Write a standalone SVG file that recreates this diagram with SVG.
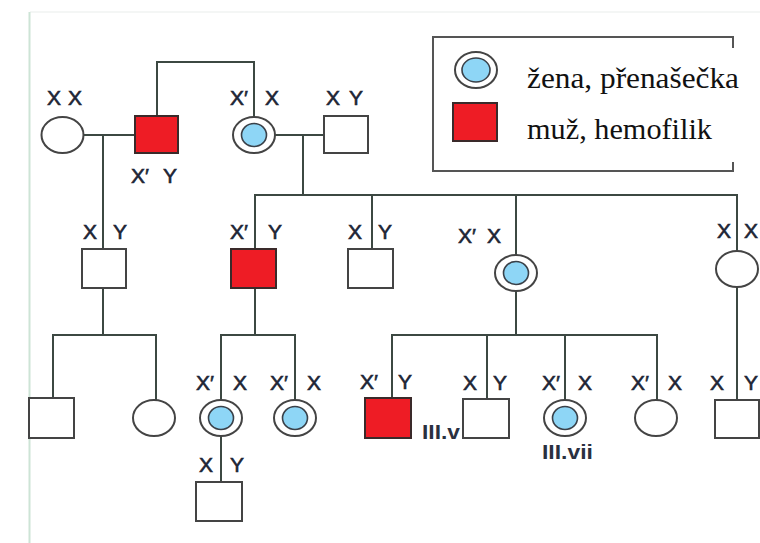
<svg xmlns="http://www.w3.org/2000/svg" width="760" height="543" viewBox="0 0 760 543">
<defs>
<style>
.ln{fill:none;stroke:#3c4842;stroke-width:2;stroke-linecap:square}
.m{fill:#fff;stroke:#444;stroke-width:2}
.hm{fill:#ee1c25;stroke:#3a2a2a;stroke-width:2}
.w{fill:#fff;stroke:#444;stroke-width:2}
.co{fill:#fff;stroke:#444;stroke-width:2}
.ci{fill:#8ed6f6;stroke:#3a4048;stroke-width:1.6}
.g{font-family:"Liberation Sans",Arial,sans-serif;font-size:21px;fill:#1e2636;stroke:#1e2636;stroke-width:0.6;text-anchor:middle}
.id{font-family:"Liberation Sans",Arial,sans-serif;font-size:20px;font-weight:bold;fill:#2a3040}
.lg{font-family:"Liberation Serif","Times New Roman",serif;font-size:29px;fill:#111}
</style>
</defs>
<rect width="760" height="543" fill="#fff"/>
<line x1="30" y1="12" x2="760" y2="12" stroke="#f1f3f2" stroke-width="1.5"/>
<line x1="29.5" y1="12" x2="29.5" y2="543" stroke="#cde4d6" stroke-width="2"/>

<g id="connectors">
<path class="ln" d="M157,116 V62 H254 V117"/>
<path class="ln" d="M84,135 H135"/>
<path class="ln" d="M103,135 V249"/>
<path class="ln" d="M275,135 H324"/>
<path class="ln" d="M303,135 V195"/>
<path class="ln" d="M255,249 V195 H737 V251"/>
<path class="ln" d="M372,195 V249"/>
<path class="ln" d="M516,195 V255"/>
<path class="ln" d="M103,288 V335"/>
<path class="ln" d="M53,398 V335 H156 V400"/>
<path class="ln" d="M255,288 V335"/>
<path class="ln" d="M221,400 V335 H295 V400"/>
<path class="ln" d="M516,291 V335"/>
<path class="ln" d="M392,398 V335 H657 V400"/>
<path class="ln" d="M487,335 V399"/>
<path class="ln" d="M565,335 V400"/>
<path class="ln" d="M737,287 V400"/>
<path class="ln" d="M221,436 V482"/>
</g>

<g id="I-1"><ellipse class="w" cx="62.5" cy="135" rx="21" ry="18"/>
<text class="g" x="54" y="105">X</text><text class="g" x="75" y="105">X</text></g>
<g id="I-2"><rect class="hm" x="135" y="116" width="43" height="37"/>
<text class="g" x="140" y="183">X′</text><text class="g" x="170" y="183">Y</text></g>
<g id="I-3"><ellipse class="co" cx="254" cy="135" rx="21" ry="18"/><ellipse class="ci" cx="254" cy="135" rx="12.5" ry="11.5"/>
<text class="g" x="239" y="105">X′</text><text class="g" x="272" y="105">X</text></g>
<g id="I-4"><rect class="m" x="324" y="116" width="44" height="37"/>
<text class="g" x="333" y="105">X</text><text class="g" x="356" y="105">Y</text></g>

<g id="II-1"><rect class="m" x="82" y="249" width="44" height="39"/>
<text class="g" x="90" y="239">X</text><text class="g" x="120" y="239">Y</text></g>
<g id="II-2"><rect class="hm" x="231" y="249" width="45" height="39"/>
<text class="g" x="239" y="239">X′</text><text class="g" x="275" y="239">Y</text></g>
<g id="II-3"><rect class="m" x="348" y="249" width="45" height="39"/>
<text class="g" x="355" y="239">X</text><text class="g" x="385" y="239">Y</text></g>
<g id="II-4"><ellipse class="co" cx="516" cy="273" rx="21" ry="18"/><ellipse class="ci" cx="516" cy="273" rx="12.5" ry="11.5"/>
<text class="g" x="467" y="243">X′</text><text class="g" x="494" y="243">X</text></g>
<g id="II-5"><ellipse class="w" cx="737" cy="269" rx="21" ry="18"/>
<text class="g" x="724" y="238">X</text><text class="g" x="751" y="238">X</text></g>

<g id="III-1"><rect class="m" x="29" y="398" width="45" height="40"/></g>
<g id="III-2"><ellipse class="w" cx="154" cy="418" rx="21" ry="18"/></g>
<g id="III-3"><ellipse class="co" cx="221" cy="418" rx="21" ry="18"/><ellipse class="ci" cx="221" cy="418" rx="12.5" ry="11.5"/>
<text class="g" x="205" y="390">X′</text><text class="g" x="240" y="390">X</text></g>
<g id="III-4"><ellipse class="co" cx="295" cy="418" rx="21" ry="18"/><ellipse class="ci" cx="295" cy="418" rx="12.5" ry="11.5"/>
<text class="g" x="279" y="390">X′</text><text class="g" x="314" y="390">X</text></g>
<g id="III-5"><rect class="hm" x="365" y="398" width="46" height="40"/>
<text class="g" x="369" y="389">X′</text><text class="g" x="405" y="389">Y</text>
<text class="id" x="422" y="439" textLength="38" lengthAdjust="spacingAndGlyphs">III.v</text></g>
<g id="III-6"><rect class="m" x="463" y="399" width="46" height="39"/>
<text class="g" x="470" y="390">X</text><text class="g" x="500" y="390">Y</text></g>
<g id="III-7"><ellipse class="co" cx="565" cy="418" rx="21" ry="18"/><ellipse class="ci" cx="565" cy="418" rx="12.5" ry="11.5"/>
<text class="g" x="551" y="390">X′</text><text class="g" x="585" y="390">X</text>
<text class="id" x="542" y="459" textLength="51" lengthAdjust="spacingAndGlyphs">III.vii</text></g>
<g id="III-8"><ellipse class="w" cx="656" cy="418" rx="21" ry="18"/>
<text class="g" x="640" y="390">X′</text><text class="g" x="675" y="390">X</text></g>
<g id="III-9"><rect class="m" x="715" y="400" width="44" height="38"/>
<text class="g" x="717" y="390">X</text><text class="g" x="751" y="390">Y</text></g>

<g id="IV-1"><rect class="m" x="196" y="482" width="46" height="39"/>
<text class="g" x="206" y="472">X</text><text class="g" x="237" y="472">Y</text></g>

<g id="legend">
<path d="M733,48 V37 H433 V171 H733 V162" fill="none" stroke="#555" stroke-width="2"/>
<ellipse class="co" cx="476" cy="70" rx="21" ry="18" stroke="#666"/>
<ellipse class="ci" cx="476" cy="70" rx="14" ry="12"/>
<rect class="hm" x="453" y="103" width="44" height="38"/>
<text class="lg" x="527" y="88" textLength="212" lengthAdjust="spacingAndGlyphs">žena, přenašečka</text>
<text class="lg" x="527" y="139" textLength="185" lengthAdjust="spacingAndGlyphs">muž, hemofilik</text>
</g>
</svg>
